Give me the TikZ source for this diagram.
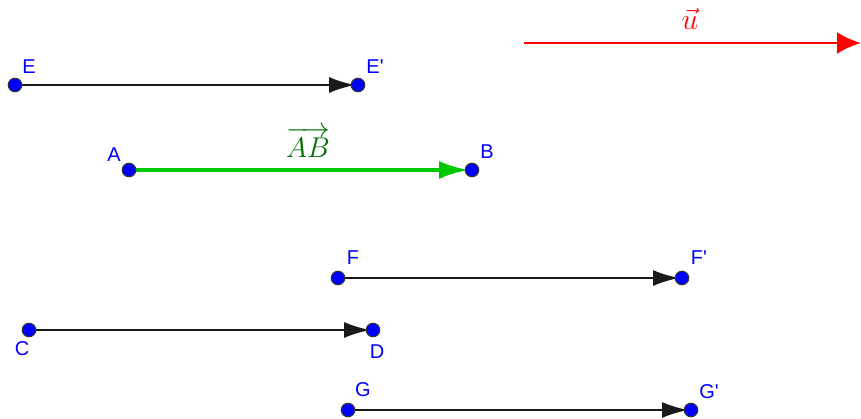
\documentclass[tikz,border=0pt]{standalone}
\usepackage{fontspec}
\setmainfont{Liberation Sans}
\usepackage{amsmath}
\usepackage{graphicx}
\usepackage{tikz}
\usetikzlibrary{arrows.meta}

\definecolor{ptblue}{RGB}{0,0,255}
\definecolor{vecgreen}{RGB}{0,200,0}
\definecolor{labgreen}{RGB}{0,110,0}

\begin{document}
\begin{tikzpicture}[
  x=1pt,y=-1pt,
  pt/.style={circle,draw=black!80,fill=ptblue,inner sep=0pt,minimum size=13.5pt,line width=1.1pt},
  lab/.style={text=ptblue,font=\fontsize{20}{24}\selectfont,inner sep=0pt},
  vec/.style={-{Latex[length=26pt,width=16pt]},shorten >=3pt,line width=1.9pt,black!90},
  mlab/.style={font=\fontsize{24.88}{30}\selectfont,inner sep=0pt}
]
  \useasboundingbox (0,0) rectangle (861,418);

  % coordinates of the points
  \coordinate (E) at (15,85);   \coordinate (E') at (358,85);
  \coordinate (A) at (129,170); \coordinate (B) at (472,170);
  \coordinate (F) at (338,278); \coordinate (F') at (682,278);
  \coordinate (C) at (29,330);  \coordinate (D) at (373,330);
  \coordinate (G) at (348,410); \coordinate (G') at (691,410);
  \coordinate (u0) at (524,43); \coordinate (u1) at (861,43);

  % vectors
  \draw[vec,red,line width=2.8pt,shorten >=0pt,-{Latex[length=24pt,width=22pt]}] (u0) -- (u1);
  \draw[vec] (E) -- (E');
  \draw[vec,vecgreen,line width=4.2pt,-{Latex[length=30pt,width=18pt]}] (A) -- (B);
  \draw[vec] (F) -- (F');
  \draw[vec] (C) -- (D);
  \draw[vec] (G) -- (G');

  % points
  \foreach \p in {E,E',A,B,F,F',C,D,G,G'}
    \node[pt] (p\p) at (\p) {};

  % labels
  \node[lab] (lE) at (29,67) {E};
  \node[lab] (lE') at (375,67) {E\textquotesingle};
  \node[lab] (lA) at (114,155) {A};
  \node[lab] (lB) at (487,152) {B};
  \node[lab] (lF) at (353,258) {F};
  \node[lab] (lF') at (699,258) {F\textquotesingle};
  \node[lab] (lC) at (22,349) {C};
  \node[lab] (lD) at (377,352) {D};
  \node[lab] (lG) at (363,390) {G};
  \node[lab] (lG') at (709,392) {G\textquotesingle};

  \node[mlab,text=labgreen] (lAB) at (308,142) {\scalebox{1.15}{$\overrightarrow{AB}$}};
  \node[mlab,text=red] (lu) at (690,19) {\scalebox{1.2}{$\vec{u}$}};
\end{tikzpicture}
\end{document}
